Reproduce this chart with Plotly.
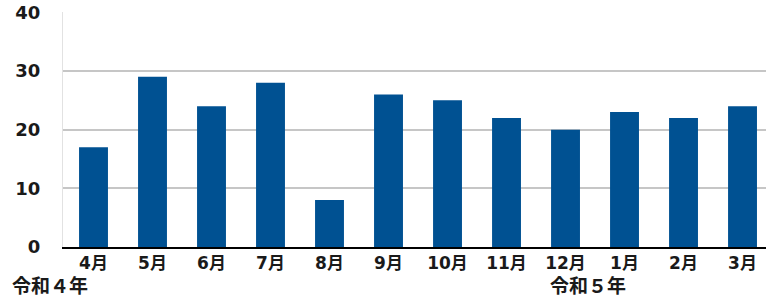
import plotly.graph_objects as go

months = ["4月", "5月", "6月", "7月", "8月", "9月", "10月", "11月", "12月", "1月", "2月", "3月"]
values = [17, 29, 24, 28, 8, 26, 25, 22, 20, 23, 22, 24]
y_ticks = [0, 10, 20, 30, 40]
era_labels = ["令和４年", "令和５年"]

FONT = "DejaVu Sans, Noto Sans CJK JP"
CJK = "Noto Sans CJK JP"
PLOT_W = 766 - 63

fig = go.Figure(go.Bar(
    x=months, y=values,
    marker=dict(color="#005192", line=dict(width=0)),
    hoverinfo="skip",
))

fig.update_layout(
    width=766, height=298,
    margin=dict(l=63, r=0, t=12, b=51, autoexpand=False),
    paper_bgcolor="white", plot_bgcolor="white",
    bargap=0.51,
    showlegend=False,
    font=dict(family=FONT, color="#1a1a1a"),
)
fig.update_xaxes(
    type="category",
    range=[-0.517, 11.398],
    automargin=False,
    showline=True, linecolor="#000000", linewidth=1.5,
    showgrid=False, ticks="",
    tickfont=dict(family=FONT, size=17, color="#1a1a1a", weight="bold"),
)
fig.update_yaxes(
    range=[0, 40.05], tickvals=y_ticks,
    automargin=False,
    showgrid=True, gridcolor="#c6c6c6", gridwidth=1.6,
    showline=True, linecolor="#e2e2e2", linewidth=1,
    zeroline=False, ticks="",
    ticklabelstandoff=18,
    tickfont=dict(family=FONT, size=18, color="#1a1a1a", weight="bold"),
)
fig.add_annotation(text=era_labels[0], xref="paper", yref="paper", x=(10 - 63) / PLOT_W, y=0,
                   xanchor="left", yanchor="middle", yshift=-37, showarrow=False,
                   font=dict(family=CJK, size=19, color="#1a1a1a", weight="bold"))
fig.add_annotation(text=era_labels[1], xref="paper", yref="paper", x=(548 - 63) / PLOT_W, y=0,
                   xanchor="left", yanchor="middle", yshift=-37, showarrow=False,
                   font=dict(family=CJK, size=19, color="#1a1a1a", weight="bold"))

fig.write_html("out.html", config={"displayModeBar": False},
               post_script="document.body.style.margin='0';document.body.style.overflow='hidden';")
